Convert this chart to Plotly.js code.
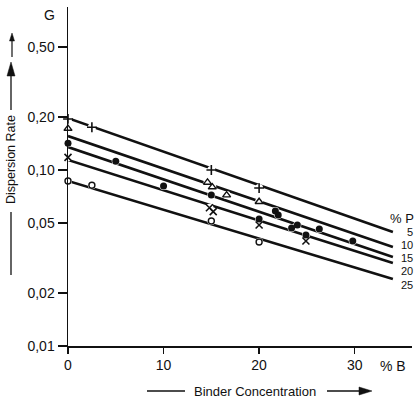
<!DOCTYPE html>
<html>
<head>
<meta charset="utf-8">
<script src="https://cdn.plot.ly/plotly-3.0.1.min.js"></script>
<style>html,body{margin:0;padding:0;background:#fff;}#chart{width:415px;height:401px;}</style>
</head>
<body>
<div id="chart"></div>
<script>
// Fitted lines (value at x = 0 and at x = 34) for each %P
const lineX = [0, 34];
const lineP5 = [0.197, 0.0444];
const lineP10 = [0.156, 0.0365];
const lineP15 = [0.135, 0.0320];
const lineP20 = [0.114, 0.0296];
const lineP25 = [0.0866, 0.0240];
const pLabels = ['5', '10', '15', '20', '25'];

// Measured points
const p5X = [0, 2.5, 15, 20];
const p5Y = [0.195, 0.175, 0.100, 0.079];
const p10X = [0, 14.6, 15.1, 16.6, 20];
const p10Y = [0.172, 0.085, 0.080, 0.072, 0.066];
const p15X = [0, 5, 10, 15, 20, 21.7, 22, 23.4, 24, 24.9, 26.3, 29.8];
const p15Y = [0.142, 0.112, 0.081, 0.072, 0.0527, 0.0585, 0.0555, 0.0468, 0.0487, 0.0427, 0.0462, 0.0395];
const p20X = [0, 14.8, 15.2, 20, 24.9];
const p20Y = [0.118, 0.061, 0.058, 0.0487, 0.0395];
const p25X = [0, 2.5, 15, 20];
const p25Y = [0.0866, 0.082, 0.0513, 0.039];

const yTickVals = [0.01, 0.02, 0.05, 0.1, 0.2, 0.5];
const yTickText = ['0,01', '0,02', '0,05', '0,10', '0,20', '0,50'];
const xTickVals = [0, 10, 20, 30];

const FONT = 'Liberation Sans, Arial, sans-serif';
const INK = '#111';

// pixel -> paper helpers (plot area: x 68..412, y 7..346)
const L = 68, R = 3, T = 7, B = 55, W = 415, H = 401;
const pw = W - L - R, ph = H - T - B;
const PX = p => (p - L) / pw;
const PY = p => (H - B - p) / ph;

const traces = [];
const lines = [lineP5, lineP10, lineP15, lineP20, lineP25];
lines.forEach(v => traces.push({x: lineX, y: v, mode: 'lines', line: {color: INK, width: 2.6}, hoverinfo: 'skip', showlegend: false, cliponaxis: false}));

// white halos creating gaps in lines
const allX = [].concat(p5X, p10X, p15X, p20X, p25X);
const allY = [].concat(p5Y, p10Y, p15Y, p20Y, p25Y);
traces.push({x: allX, y: allY, mode: 'markers', marker: {symbol: 'circle', size: 8, color: '#fff'}, hoverinfo: 'skip', showlegend: false, cliponaxis: false});

const mk = (x, y, symbol, size, w) => ({x: x, y: y, mode: 'markers', cliponaxis: false, showlegend: false,
  marker: {symbol: symbol, size: size, color: INK, line: {color: INK, width: w}}});
traces.push(mk(p5X, p5Y, 'cross-thin-open', 7, 1.6));
traces.push(mk(p10X, p10Y, 'triangle-up-open', 7, 1.4));
traces.push(mk(p15X, p15Y, 'circle', 7, 0));
traces.push(mk(p20X, p20Y, 'x-thin-open', 7, 1.6));
traces.push(mk(p25X, p25Y, 'circle-open', 6, 1.4));

const labelY = [232, 245, 258, 271, 285];
const annotations = pLabels.map((t, i) => ({
  xref: 'paper', yref: 'paper', x: PX(414), y: PY(labelY[i]), xanchor: 'right', yanchor: 'middle',
  text: t, showarrow: false, borderpad: 0, font: {family: FONT, size: 11, color: INK}
}));
annotations.push({xref: 'paper', yref: 'paper', x: PX(415), y: PY(218), xanchor: 'right', yanchor: 'middle', text: '% P', showarrow: false, borderpad: 0, font: {family: FONT, size: 13, color: INK}});
annotations.push({xref: 'paper', yref: 'paper', x: PX(393), y: PY(366), xanchor: 'center', yanchor: 'middle', text: '% B', showarrow: false, font: {family: FONT, size: 14, color: INK}});
annotations.push({xref: 'paper', yref: 'paper', x: PX(49), y: PY(15), xanchor: 'center', yanchor: 'middle', text: 'G', showarrow: false, font: {family: FONT, size: 14, color: INK}});
annotations.push({xref: 'paper', yref: 'paper', x: PX(255), y: PY(391), xanchor: 'center', yanchor: 'middle', text: 'Binder Concentration', showarrow: false, font: {family: FONT, size: 13, color: INK}});
annotations.push({xref: 'paper', yref: 'paper', x: PX(11), y: PY(160), xanchor: 'center', yanchor: 'middle', textangle: -90, text: 'Dispersion Rate', showarrow: false, font: {family: FONT, size: 12.5, color: INK}});

const ln = (x0, y0, x1, y1, w) => ({type: 'line', xref: 'paper', yref: 'paper', x0: PX(x0), y0: PY(y0), x1: PX(x1), y1: PY(y1), line: {color: INK, width: w}});
const tri = pts => ({type: 'path', xref: 'paper', yref: 'paper',
  path: 'M ' + pts.map(p => PX(p[0]) + ',' + PY(p[1])).join(' L ') + ' Z', fillcolor: INK, line: {color: INK, width: 0.5}});
const shapes = [
  ln(147, 391, 185, 391, 1.3),
  ln(327, 391, 362, 391, 1.3),
  tri([[359, 387], [372, 391], [359, 395]]),
  ln(11, 110, 11, 74, 1.3),
  tri([[7, 76], [11, 62], [15, 76]]),
  ln(11, 212, 11, 275, 1.3),
  ln(12, 57, 12, 39, 1.2),
  tri([[9.5, 41], [12, 33], [14.5, 41]])
];

const layout = {
  width: W, height: H,
  margin: {l: L, r: R, t: T, b: B},
  paper_bgcolor: '#fff', plot_bgcolor: '#fff',
  font: {family: FONT, size: 13, color: INK},
  xaxis: {range: [0, 36], showgrid: false, zeroline: false, showline: true, linecolor: INK, linewidth: 1.5,
    ticks: 'outside', ticklen: 6, tickwidth: 1.5, tickcolor: INK, tickvals: xTickVals,
    tickfont: {family: FONT, size: 14, color: INK}},
  yaxis: {type: 'log', range: [-2, -0.0737], showgrid: false, zeroline: false, showline: true, linecolor: INK, linewidth: 1.5,
    ticks: 'outside', ticklen: 9, tickwidth: 1.5, tickcolor: INK, tickvals: yTickVals, ticktext: yTickText,
    tickfont: {family: FONT, size: 14, color: INK}},
  annotations: annotations,
  shapes: shapes,
  showlegend: false
};

Plotly.newPlot('chart', traces, layout, {staticPlot: true, displayModeBar: false});
</script>
</body>
</html>
